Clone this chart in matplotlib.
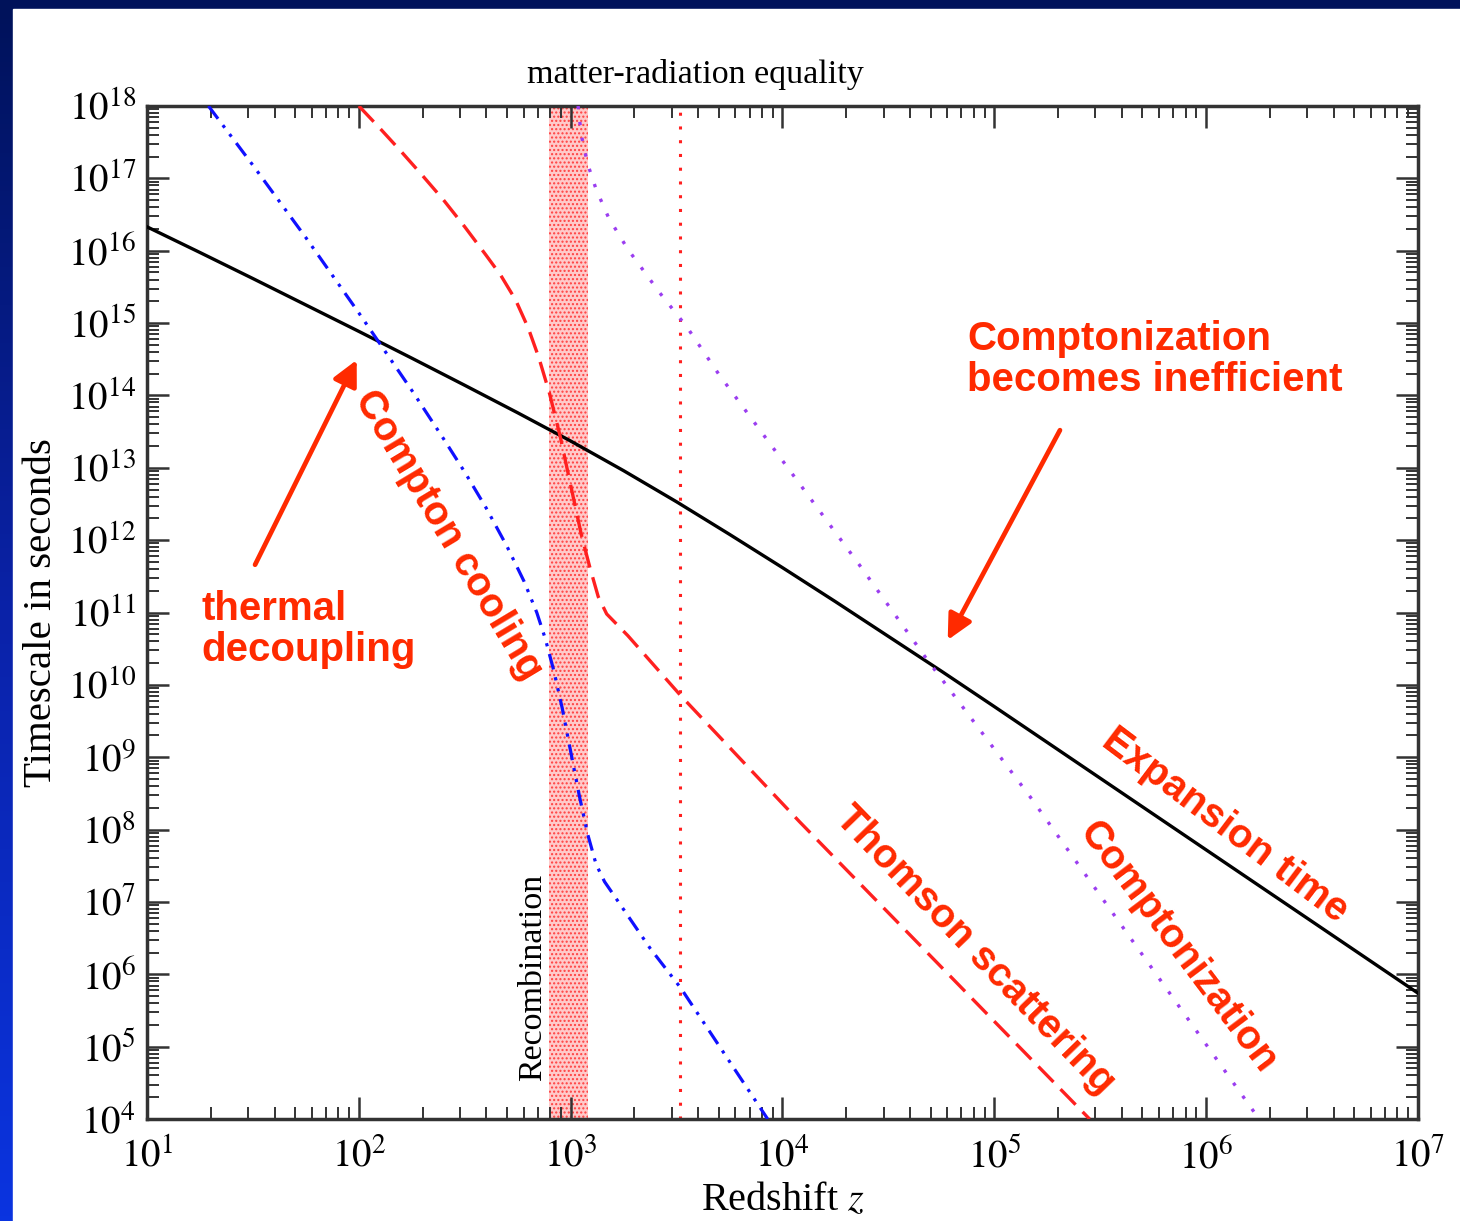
import numpy as np
import matplotlib.pyplot as plt
from matplotlib.colors import LinearSegmentedColormap
from matplotlib.patches import Rectangle
from matplotlib.ticker import LogLocator, NullFormatter

plt.rcParams['font.family'] = ['Liberation Serif', 'DejaVu Serif']
plt.rcParams['mathtext.fontset'] = 'stix'
plt.rcParams['hatch.linewidth'] = 1.0

# curves, as log10(z) and log10(t / s)
expansion_logz = [1.0, 1.25, 1.5, 1.75, 2.0, 2.25, 2.5, 2.75, 3.0, 3.25, 3.5, 3.75, 4.0,
                  4.25, 4.5, 4.75, 5.0, 5.5, 6.0, 6.5, 7.0]
expansion_logt = [16.33, 15.975, 15.615, 15.25, 14.885, 14.515, 14.14, 13.76, 13.37, 12.96, 12.53,
                  12.08, 11.62, 11.15, 10.67, 10.19, 9.70, 8.71, 7.72, 6.73, 5.74]

thomson_logz = [2.0, 2.1, 2.2, 2.3, 2.4, 2.5, 2.6, 2.67, 2.74, 2.80, 2.85, 2.90, 2.95, 3.00,
                3.05, 3.09, 3.13, 3.17, 3.27, 3.52, 4.08, 5.45]
thomson_logt = [18.0, 17.69, 17.37, 17.04, 16.70, 16.33, 15.94, 15.66, 15.32, 14.93, 14.52, 14.03,
                13.44, 12.76, 12.08, 11.63, 11.22, 10.98, 10.68, 9.85, 8.11, 4.0]

cooling_logz = [1.29, 1.5, 1.75, 2.0, 2.25, 2.4, 2.5, 2.6, 2.7, 2.78, 2.84, 2.88, 2.92, 2.96,
                3.00, 3.04, 3.08, 3.12, 3.16, 3.20, 3.375, 3.52, 3.93]
cooling_logt = [18.0, 17.18, 16.18, 15.14, 14.07, 13.40, 12.94, 12.45, 11.91, 11.43, 11.0, 10.64,
                10.20, 9.68, 9.08, 8.48, 7.94, 7.52, 7.28, 7.11, 6.36, 5.81, 4.0]

comptonization_logz = [3.035, 3.05, 3.08, 3.12, 3.18, 3.27, 3.42, 3.55, 3.70, 4.36, 4.68, 5.17, 6.25]
comptonization_logt = [18.0, 17.6, 17.2, 16.85, 16.45, 16.02, 15.42, 14.94, 14.29, 11.67, 10.36, 8.45, 4.0]

recombination_z = (790, 1210)
equality_z = 3300

ytick_exps = list(range(4, 19))
xtick_exps = list(range(1, 8))

red = '#ff2a00'

fig = plt.figure(figsize=(14.6, 12.21), dpi=100)

# slide background
bg = fig.add_axes([0, 0, 1, 1])
bg.axis('off')
cmap = LinearSegmentedColormap.from_list('bg', ['#00125a', '#0a22a8', '#0a34e0'])
bg.imshow(np.linspace(0, 1, 256).reshape(-1, 1), aspect='auto', cmap=cmap,
          extent=[0, 1, 0, 1], origin='upper')
bg.add_patch(Rectangle((13 / 1460, 0), 1, 1 - 9 / 1221, color='white'))
bg.set_xlim(0, 1)
bg.set_ylim(0, 1)

ax = fig.add_axes([0.1007, 0.0835, 0.8705, 0.8297])
ax.set_xscale('log')
ax.set_yscale('log')
ax.set_xlim(1e1, 1e7)
ax.set_ylim(1e4, 1e18)

ax.axvspan(*recombination_z, facecolor='#ffcaca', edgecolor='#ff4040',
           hatch='....', linewidth=0, zorder=1)
ax.axvline(equality_z, color='#ff2020', lw=2.2, ls=(0, (1, 3.5)), zorder=2)

ax.plot(10 ** np.array(expansion_logz), 10 ** np.array(expansion_logt),
        color='black', lw=2.4, zorder=3)
ax.plot(10 ** np.array(thomson_logz), 10 ** np.array(thomson_logt),
        color='#ff2020', lw=2.4, ls=(0, (6.5, 3)), zorder=3)
ax.plot(10 ** np.array(cooling_logz), 10 ** np.array(cooling_logt),
        color='#1010ff', lw=2.3, ls=(0, (5, 2.5, 1, 2.5, 1, 2.5)), zorder=3)
ax.plot(10 ** np.array(comptonization_logz), 10 ** np.array(comptonization_logt),
        color='#9b3df0', lw=2.4, ls=(0, (1, 3.8)), zorder=3)

# ticks
ax.set_xticks([10.0 ** k for k in xtick_exps])
ax.set_xticklabels([r'$10^{%d}$' % k for k in xtick_exps])
ax.set_yticks([10.0 ** k for k in ytick_exps])
ax.set_yticklabels([r'$10^{%d}$' % k for k in ytick_exps])
ax.xaxis.set_minor_locator(LogLocator(base=10, subs=np.arange(2, 10), numticks=200))
ax.yaxis.set_minor_locator(LogLocator(base=10, subs=np.arange(2, 10), numticks=200))
ax.xaxis.set_minor_formatter(NullFormatter())
ax.yaxis.set_minor_formatter(NullFormatter())
ax.tick_params(which='major', direction='in', length=16, width=1.8, color='#333333',
               top=True, right=True, labelsize=28, pad=8)
ax.tick_params(axis='x', which='major', pad=14)
ax.tick_params(which='minor', direction='in', length=8.5, width=1.4, color='#333333',
               top=True, right=True)
for sp in ax.spines.values():
    sp.set_linewidth(2.5)
    sp.set_color('#333333')

ax.set_xlabel(r'Redshift $z$', fontsize=29, labelpad=4)
ax.set_ylabel('Timescale in seconds', fontsize=29.5, labelpad=6)

fig.text(695 / 1460, 1 - 75 / 1221, 'matter-radiation equality', fontsize=24.5,
         ha='center', va='center')
ax.text(10 ** 2.822, 10 ** 5.96, 'Recombination', fontsize=24.5, rotation=90,
        ha='center', va='center', zorder=4)

# red annotations
bold = dict(color=red, fontweight='bold', family=['Liberation Sans', 'DejaVu Sans'], fontsize=29)
ax.text(10 ** 1.255, 10 ** 10.76, 'thermal\ndecoupling', ha='left', va='center',
        linespacing=1.1, **bold)
ax.text(10 ** 4.872, 10 ** 14.49, 'Comptonization\nbecomes inefficient', ha='left',
        va='center', linespacing=1.1, **bold)
ax.text(10 ** 2.421, 10 ** 12.07, 'Compton cooling', rotation=-59, ha='center',
        va='center', rotation_mode='anchor', **bold)
ax.text(10 ** 4.909, 10 ** 6.34, 'Thomson scattering', rotation=-46, ha='center',
        va='center', rotation_mode='anchor', **bold)
ax.text(10 ** 5.868, 10 ** 6.38, 'Comptonization', rotation=-53, ha='center',
        va='center', rotation_mode='anchor', **bold)
ax.text(10 ** 6.09, 10 ** 8.06, 'Expansion time', rotation=-37, ha='center',
        va='center', rotation_mode='anchor', **bold)

arrow = dict(arrowstyle='-|>', color=red, lw=3.4, mutation_scale=38, shrinkA=0, shrinkB=0)
ax.annotate('', xy=(10 ** 1.99, 10 ** 14.49), xytext=(10 ** 1.51, 10 ** 11.66), arrowprops=arrow)
ax.annotate('', xy=(10 ** 4.78, 10 ** 10.62), xytext=(10 ** 5.31, 10 ** 13.52), arrowprops=arrow)

fig.savefig('out.png', dpi=100)
